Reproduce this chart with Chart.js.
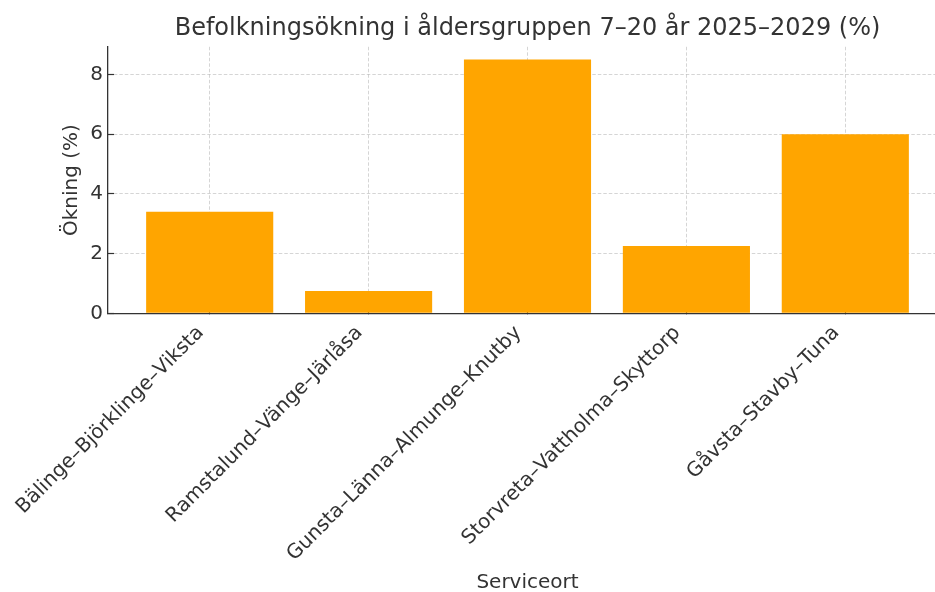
<!DOCTYPE html>
<html>
<head>
<meta charset="utf-8">
<script src="https://cdn.jsdelivr.net/npm/chart.js@4.4.1/dist/chart.umd.min.js"></script>
<style>
  html, body { margin: 0; padding: 0; background: #fff; overflow: hidden; width: 935px; height: 592px; }
  canvas { display: block; }
</style>
</head>
<body>
<canvas id="c" width="960" height="592"></canvas>
<script>
const categories = [
  "Bälinge–Björklinge–Viksta",
  "Ramstalund–Vänge–Järlåsa",
  "Gunsta–Länna–Almunge–Knutby",
  "Storvreta–Vattholma–Skyttorp",
  "Gåvsta–Stavby–Tuna"
];
const increase = [3.4, 0.75, 8.5, 2.25, 6.0];
const yTicks = [0, 2, 4, 6, 8];

const titleText = "Befolkningsökning i åldersgruppen 7–20 år 2025–2029 (%)";
const xTitle = "Serviceort";
const yTitle = "Ökning (%)";

const FONT = "'DejaVu Sans', sans-serif";
const TEXT = "#333333";
const GRID = "rgba(170,170,170,0.55)";

Chart.defaults.font.family = FONT;
Chart.defaults.color = TEXT;

const points = increase.map((v, i) => ({ x: i, y: v }));

new Chart(document.getElementById('c'), {
  type: 'bar',
  data: {
    datasets: [{
      data: points,
      backgroundColor: '#FFA500',
      borderWidth: 0,
      barPercentage: 0.8,
      categoryPercentage: 1.0
    }]
  },
  options: {
    responsive: false,
    animation: false,
    layout: { padding: { left: 0, right: 13, top: 0, bottom: 0 } },
    plugins: {
      legend: { display: false },
      tooltip: { enabled: false },
      title: {
        display: true,
        fullSize: false,
        text: titleText,
        color: TEXT,
        font: { family: FONT, size: 24, weight: 'normal' },
        padding: { top: 14.5, bottom: 3.5 }
      }
    },
    scales: {
      x: {
        type: 'linear',
        min: -0.64,
        max: 4.64,
        z: 1,
        offset: false,
        afterBuildTicks: (s) => { s.ticks = categories.map((_, i) => ({ value: i })); },
        afterFit: (s) => { s.height = 278.7; },
        ticks: {
          autoSkip: false,
          minRotation: 45,
          maxRotation: 45,
          padding: 5,
          color: TEXT,
          font: { family: FONT, size: 20 },
          callback: (v) => (categories[v] !== undefined ? categories[v] + '  ' : '')
        },
        grid: {
          offset: false,
          color: GRID,
          lineWidth: 0.9,
          drawTicks: true,
          tickLength: -6,
          tickColor: '#333333',
          tickWidth: 1.2,
          tickBorderDash: []
        },
        border: { display: true, color: '#333333', width: 1.3, dash: [3.5, 2] },
        title: {
          display: true,
          text: xTitle,
          color: TEXT,
          font: { family: FONT, size: 20, lineHeight: 1 },
          padding: { top: 0, bottom: -1 }
        }
      },
      y: {
        min: 0,
        max: 8.925,
        z: 1,
        afterBuildTicks: (s) => { s.ticks = yTicks.map(v => ({ value: v })); },
        afterFit: (s) => { s.width = 108; },
        ticks: {
          padding: 11,
          color: TEXT,
          font: { family: FONT, size: 20 }
        },
        grid: {
          color: GRID,
          lineWidth: 0.9,
          drawTicks: true,
          tickLength: -6,
          tickColor: '#333333',
          tickWidth: 1.2,
          tickBorderDash: []
        },
        border: { display: true, color: '#333333', width: 1.3, dash: [3.5, 2] },
        title: {
          display: true,
          text: yTitle,
          color: TEXT,
          font: { family: FONT, size: 20 },
          padding: { top: 60, bottom: 0 }
        }
      }
    }
  }
});
</script>
</body>
</html>
